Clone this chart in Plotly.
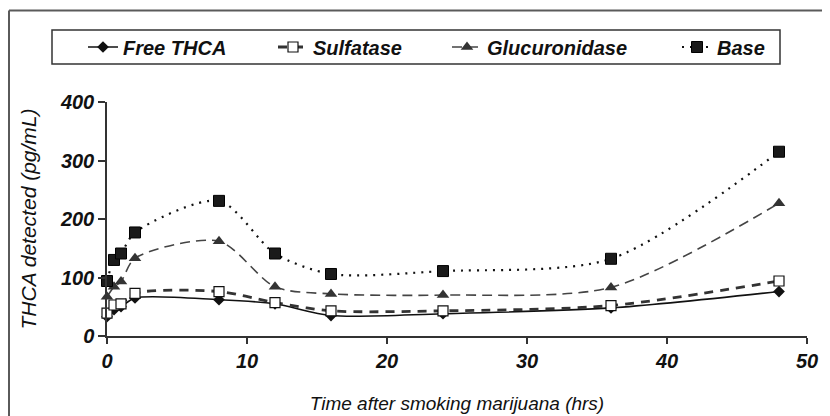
import plotly.graph_objects as go

# ---- data ----
hours = [0, 0.5, 1, 2, 8, 12, 16, 24, 36, 48]
free_thca = [33, 45, 50, 65, 62, 55, 35, 38, 48, 76]
sulfatase = [39, 53, 55, 73, 76, 57, 43, 43, 52, 94]
glucuronidase = [67, 84, 93, 133, 162, 84, 72, 70, 83, 227]
base = [94, 130, 141, 177, 231, 141, 106, 111, 132, 315]
series_names = ["Free THCA", "Sulfatase", "Glucuronidase", "Base"]
x_ticks = [0, 10, 20, 30, 40, 50]
y_ticks = [0, 100, 200, 300, 400]

# ---- geometry (page pixels; the page body adds an 8px offset) ----
OFF = 8
W, H = 830, 416
L, R, T, B = 107 - OFF, 807 - OFF, 102 - OFF, 336 - OFF
PW, PH = R - L, B - T


def px(xp):
    return (xp - OFF - L) / PW


def py(yp):
    return (B - (yp - OFF)) / PH


FONT = "Liberation Sans, Arial, sans-serif"

fig = go.Figure()

styles = [
    dict(line=dict(color="#111111", width=1.6, dash="solid", shape="spline", smoothing=0.8),
         marker=dict(symbol="diamond", size=9, color="#111111")),
    dict(line=dict(color="#333333", width=2.8, dash="9px,7px", shape="spline", smoothing=0.8),
         marker=dict(symbol="square", size=10, color="white",
                     line=dict(color="#111111", width=1.2))),
    dict(line=dict(color="#444444", width=1.6, dash="10px,6px", shape="spline", smoothing=0.8),
         marker=dict(symbol="triangle-up", size=11, color="#333333")),
    dict(line=dict(color="#111111", width=2.2, dash="2px,6px", shape="spline", smoothing=0.8),
         marker=dict(symbol="square", size=11, color="#1a1a1a",
                     line=dict(color="#000000", width=1))),
]
all_vals = [free_thca, sulfatase, glucuronidase, base]
legend_ids = ["legend", "legend2", "legend3", "legend4"]
text_starts = [123, 313, 487, 717]

for name, vals, st, lg in zip(series_names, all_vals, styles, legend_ids):
    fig.add_trace(go.Scatter(
        x=hours, y=vals, name=name, mode="lines+markers",
        line=st["line"], marker=st["marker"], cliponaxis=False,
        legend=lg,
    ))

legend_common = dict(
    orientation="h", yanchor="middle", y=py(47), xanchor="left",
    bgcolor="rgba(0,0,0,0)", borderwidth=0,
    font=dict(family=FONT, size=20, color="#111111", weight="bold", style="italic"),
    itemwidth=30,
)
layout_legends = {}
for lg, ts in zip(legend_ids, text_starts):
    d = dict(legend_common)
    d["x"] = px(ts - 40)
    layout_legends[lg] = d

fig.update_layout(
    width=W, height=H,
    margin=dict(l=L, r=W - R, t=T, b=H - B, autoexpand=False),
    paper_bgcolor="white", plot_bgcolor="white",
    showlegend=True,
    **layout_legends,
    xaxis=dict(
        range=[0, 50], tickvals=x_ticks, ticks="outside", ticklen=6,
        tickcolor="#333333", tickwidth=1.5,
        showline=True, linecolor="#333333", linewidth=1.5,
        showgrid=False, zeroline=False, automargin=False,
        tickfont=dict(family=FONT, size=20, color="#111111", weight="bold", style="italic"),
        title=dict(text="Time after smoking marijuana (hrs)",
                   font=dict(family=FONT, size=19, color="#111111", style="italic"),
                   standoff=26),
    ),
    yaxis=dict(
        range=[0, 400], tickvals=y_ticks, ticks="outside", ticklen=7,
        tickcolor="#333333", tickwidth=1.5,
        showline=True, linecolor="#333333", linewidth=1.5,
        showgrid=False, zeroline=False, automargin=False,
        tickfont=dict(family=FONT, size=20, color="#111111", weight="bold", style="italic"),
        title=dict(text="THCA detected (pg/mL)",
                   font=dict(family=FONT, size=21, color="#111111", style="italic"),
                   standoff=18),
    ),
    shapes=[
        # outer frame (left and top visible)
        dict(type="line", xref="paper", yref="paper", x0=px(9), x1=px(9),
             y0=py(10.5), y1=py(440), line=dict(color="#5a5a5a", width=2)),
        dict(type="line", xref="paper", yref="paper", x0=px(9), x1=px(850),
             y0=py(10.5), y1=py(10.5), line=dict(color="#5a5a5a", width=2)),
        # legend box
        dict(type="rect", xref="paper", yref="paper", x0=px(52), x1=px(780),
             y0=py(64), y1=py(30), line=dict(color="#333333", width=1.5)),
    ],
)

fig.write_html("out.html")
